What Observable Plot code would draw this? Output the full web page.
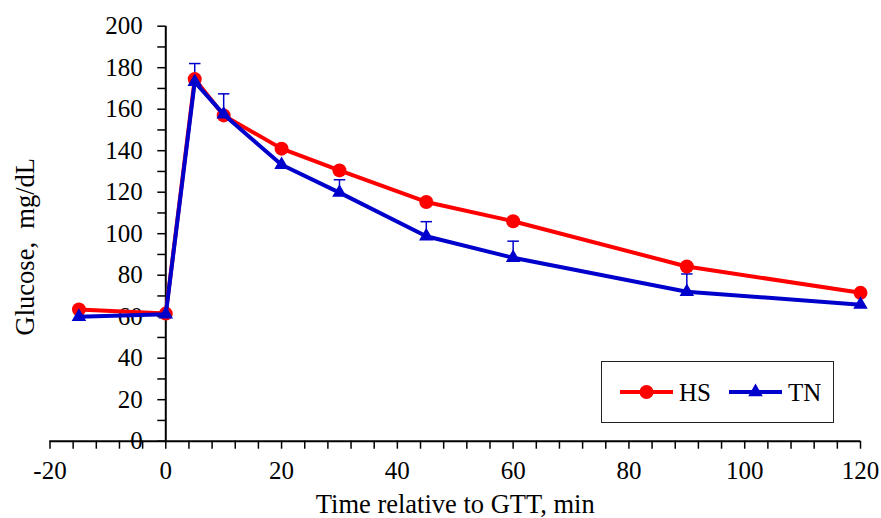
<!DOCTYPE html>
<html>
<head>
<meta charset="utf-8">
<script src="https://cdn.jsdelivr.net/npm/d3@7"></script>
<script src="https://cdn.jsdelivr.net/npm/@observablehq/plot@0.6"></script>
<style>
  html, body { margin: 0; padding: 0; background: #fff; }
  #wrap { position: relative; width: 881px; height: 518px; font-family: "Liberation Serif", "Times New Roman", serif; }
  #wrap svg text { font-family: "Liberation Serif", "Times New Roman", serif; }
  #legend { position: absolute; left: 601px; top: 361px; width: 233px; height: 62px; border: 1px solid #222; background: #fff; box-sizing: border-box; }
</style>
</head>
<body>
<div id="wrap">
  <div id="chart"></div>
  <div id="legend"></div>
</div>
<script>
// ---- data ----
const time = [-15, 0, 5, 10, 20, 30, 45, 60, 90, 120];
const hsGlucose = [63.5, 61.5, 174.5, 157, 141, 130.5, 115.3, 106, 84.2, 71.5];
const tnGlucose = [60, 61.2, 173.2, 157.5, 133.2, 119.8, 98.8, 88.4, 72, 65.8];
// upper end of TN error bars (null = no visible bar)
const tnUpper = [null, null, 182, 167.4, null, 126, 105.8, 96.4, 80.6, null];
const seriesNames = ["HS", "TN"];
const seriesColors = ["#FF0000", "#0000CC"];
const xMajorTicks = [-20, 0, 20, 40, 60, 80, 100, 120];
const xMinorTicks = d3.range(-20, 121, 4);
const yMajorTicks = d3.range(0, 201, 20);
const yMinorTicks = d3.range(0, 201, 10);
const xTitle = "Time relative to GTT, min";
const yTitle = "Glucose,  mg/dL";

// ---- layout ----
const W = 881, H = 518;
const mL = 49.5, mR = 21, mT = 25.7, mB = 77.3;
const xDomain = [-20, 120], yDomain = [0, 200];
const xs = d3.scaleLinear(xDomain, [mL, W - mR]);
const yAxisShift = xs(0) - xs(xDomain[0]); // y axis crosses at x = 0
const FONT = "Liberation Serif";

const hs = time.map((t, i) => ({t, v: hsGlucose[i]}));
const tn = time.map((t, i) => ({t, v: tnGlucose[i], up: tnUpper[i]}));
const tnErr = tn.filter(d => d.up != null);

const capSymbol = {
  draw(ctx, size) {
    const w = Math.sqrt(size);
    ctx.moveTo(-w / 2, 0);
    ctx.lineTo(w / 2, 0);
  }
};

const chart = Plot.plot({
  width: W,
  height: H,
  marginLeft: mL,
  marginRight: mR,
  marginTop: mT,
  marginBottom: mB,
  x: {domain: xDomain},
  y: {domain: yDomain},
  style: {fontFamily: FONT, fontSize: "25px", color: "black", background: "white", overflow: "visible"},
  marks: [
    // x axis ticks (below, at y = 0)
    Plot.axisX({ticks: xMinorTicks, tickSize: 8, tickFormat: () => "", label: null, strokeWidth: 1.5}),
    Plot.axisX({ticks: xMajorTicks, tickSize: 0, tickPadding: 20, label: null, tickFormat: d => String(d), fontSize: 25, fontFamily: FONT, fontVariant: "normal"}),
    // y axis ticks (left of x = 0)
    Plot.axisY({ticks: yMinorTicks, tickSize: 8, tickFormat: () => "", label: null, dx: yAxisShift, strokeWidth: 1.5}),
    Plot.axisY({ticks: yMajorTicks, tickSize: 0, tickPadding: 23, label: null, dx: yAxisShift, tickFormat: d => String(d), fontSize: 25, fontFamily: FONT, fontVariant: "normal"}),
    Plot.ruleY([0], {stroke: "black", strokeWidth: 2}),
    Plot.ruleX([0], {stroke: "black", strokeWidth: 2}),
    // error bars
    Plot.ruleX(tnErr, {x: "t", y1: "v", y2: "up", stroke: seriesColors[1], strokeWidth: 1.5}),
    Plot.dot(tnErr, {x: "t", y: "up", symbol: capSymbol, r: 6.5, stroke: seriesColors[1], strokeWidth: 1.5, fill: "none"}),
    // HS
    Plot.line(hs, {x: "t", y: "v", stroke: seriesColors[0], strokeWidth: 4}),
    Plot.dot(hs, {x: "t", y: "v", r: 7, fill: seriesColors[0], stroke: "none"}),
    // TN
    Plot.line(tn, {x: "t", y: "v", stroke: seriesColors[1], strokeWidth: 4}),
    Plot.dot(tn, {x: "t", y: "v", symbol: "triangle", r: 5.4, fill: seriesColors[1], stroke: "none"}),
    // titles
    Plot.text([xTitle], {frameAnchor: "bottom", lineAnchor: "middle", textAnchor: "middle", dy: 63, fontSize: 26.5, fontFamily: FONT}),
    Plot.text([yTitle], {frameAnchor: "left", lineAnchor: "middle", textAnchor: "middle", rotate: -90, dx: -24.5, dy: 13, fontSize: 26.5, fontFamily: FONT})
  ]
});
document.getElementById("chart").appendChild(chart);

// ---- legend ----
const lg = d3.select("#legend").append("svg").attr("width", 231).attr("height", 60).style("display", "block");
const items = [
  {name: seriesNames[0], color: seriesColors[0], x: 18, shape: "circle"},
  {name: seriesNames[1], color: seriesColors[1], x: 127, shape: "triangle"}
];
for (const it of items) {
  const g = lg.append("g").attr("transform", `translate(${it.x},30)`);
  g.append("line").attr("x1", 0).attr("x2", 53).attr("y1", 0).attr("y2", 0)
    .attr("stroke", it.color).attr("stroke-width", 4);
  if (it.shape === "circle") {
    g.append("circle").attr("cx", 26.5).attr("cy", 0).attr("r", 7).attr("fill", it.color);
  } else {
    g.append("path").attr("transform", "translate(26.5,0)")
      .attr("d", d3.symbol(d3.symbolTriangle, Math.PI * 5.4 * 5.4)()).attr("fill", it.color);
  }
  g.append("text").attr("x", 59).attr("y", 9).attr("font-size", 25)
    .attr("font-family", FONT).attr("fill", "black").text(it.name);
}
</script>
</body>
</html>
